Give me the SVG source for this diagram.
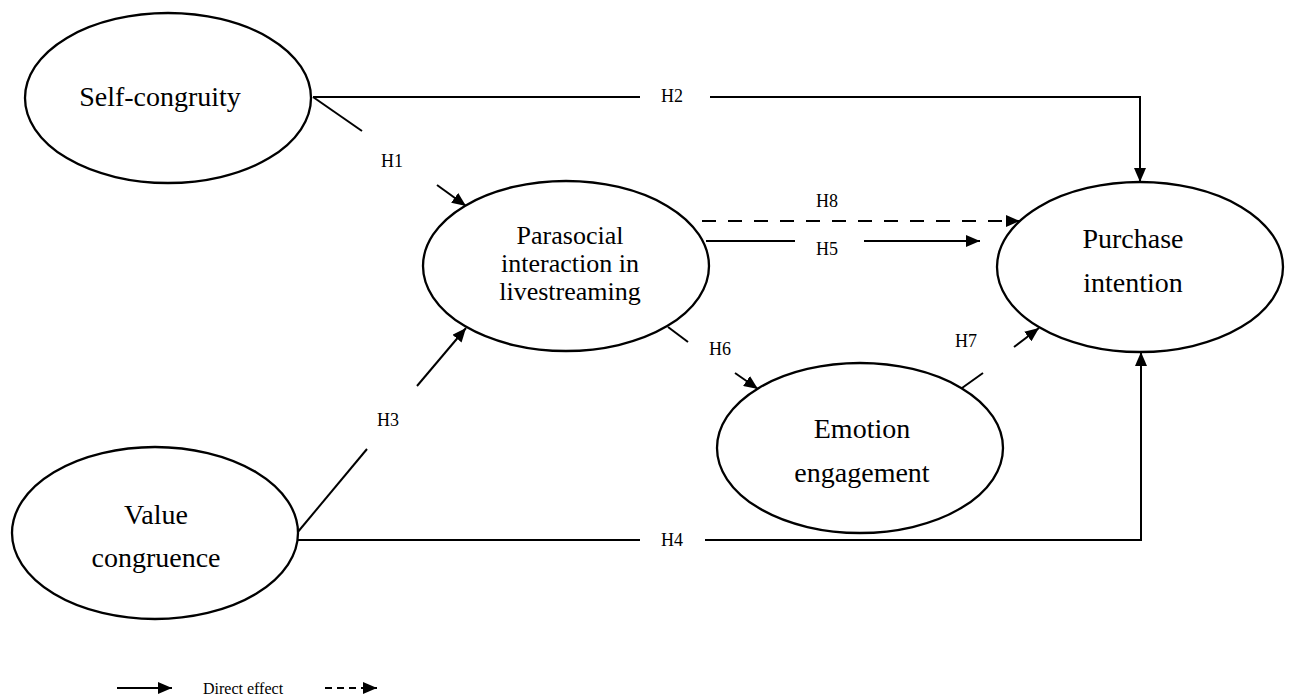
<svg xmlns="http://www.w3.org/2000/svg" width="1293" height="698" viewBox="0 0 1293 698">
<style>
.node ellipse{fill:#fff;stroke:#000;stroke-width:2.3}
.node text{font-family:"Liberation Serif","Times New Roman",serif;font-size:28px;fill:#000;text-anchor:middle}
.node text.tight{font-size:26px}
.conn line,.conn path{stroke:#000;stroke-width:2;fill:none}
.dash{stroke-dasharray:14 12}
.lbl{font-family:"Liberation Serif","Times New Roman",serif;font-size:18px;fill:#000;text-anchor:middle}
.leg{font-family:"Liberation Serif","Times New Roman",serif;font-size:16px;fill:#000}
</style>
<defs>
<marker id="ah" viewBox="0 0 14 12" refX="14" refY="6" markerWidth="14" markerHeight="12" markerUnits="userSpaceOnUse" orient="auto">
<path d="M0,0 L14,6 L0,12 z" fill="#000"/>
</marker>
</defs>
<rect width="1293" height="698" fill="#fff"/>
<g class="conn" id="connectors">
<line x1="313" y1="97" x2="362" y2="131"/>
<line x1="437" y1="185" x2="466" y2="206" marker-end="url(#ah)"/>
<path d="M313,97 H640"/>
<path d="M710,97 H1140 V182" marker-end="url(#ah)"/>
<line x1="297" y1="533" x2="367" y2="449"/>
<line x1="417" y1="386" x2="466" y2="328" marker-end="url(#ah)"/>
<path d="M297,540 H640"/>
<path d="M705,540 H1141 V352" marker-end="url(#ah)"/>
<line x1="706" y1="241" x2="795" y2="241"/>
<line x1="864" y1="241" x2="980" y2="241" marker-end="url(#ah)"/>
<line class="dash" x1="702" y1="221" x2="1020" y2="221" marker-end="url(#ah)"/>
<line x1="668" y1="327" x2="688" y2="342"/>
<line x1="735" y1="373" x2="758" y2="389" marker-end="url(#ah)"/>
<line x1="962" y1="388" x2="983" y2="373"/>
<line x1="1014" y1="347" x2="1039" y2="328" marker-end="url(#ah)"/>
</g>
<g id="labels">
<text class="lbl" x="392" y="167">H1</text>
<text class="lbl" x="672" y="102">H2</text>
<text class="lbl" x="388" y="426">H3</text>
<text class="lbl" x="672" y="546">H4</text>
<text class="lbl" x="827" y="255">H5</text>
<text class="lbl" x="720" y="355">H6</text>
<text class="lbl" x="966" y="347">H7</text>
<text class="lbl" x="827" y="207">H8</text>
</g>
<g class="node" id="self-congruity">
<ellipse cx="168" cy="98" rx="143" ry="85"/>
<text x="160" y="106">Self-congruity</text>
</g>
<g class="node" id="parasocial">
<ellipse cx="566" cy="266" rx="143" ry="85"/>
<text class="tight" x="570" y="244">Parasocial</text>
<text class="tight" x="570" y="272">interaction in</text>
<text class="tight" x="570" y="300">livestreaming</text>
</g>
<g class="node" id="value-congruence">
<ellipse cx="155" cy="533" rx="143" ry="86"/>
<text x="156" y="524">Value</text>
<text x="156" y="567">congruence</text>
</g>
<g class="node" id="purchase-intention">
<ellipse cx="1140" cy="267" rx="143" ry="85"/>
<text x="1133" y="248">Purchase</text>
<text x="1133" y="292">intention</text>
</g>
<g class="node" id="emotion-engagement">
<ellipse cx="860" cy="448" rx="143" ry="85"/>
<text x="862" y="438">Emotion</text>
<text x="862" y="482">engagement</text>
</g>
<g class="conn" id="legend">
<line x1="117" y1="688" x2="172" y2="688" marker-end="url(#ah)"/>
<text class="leg" x="203" y="694" style="stroke:none">Direct effect</text>
<line x1="325" y1="688" x2="377" y2="688" style="stroke-dasharray:7 5" marker-end="url(#ah)"/>
</g>
</svg>
